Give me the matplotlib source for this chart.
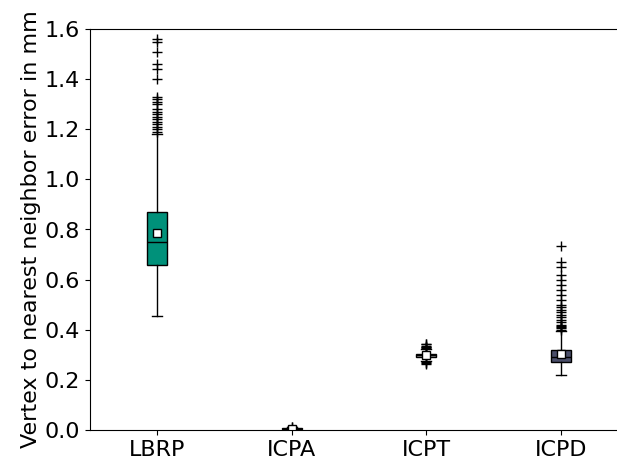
import matplotlib
matplotlib.use("Agg")
import matplotlib.pyplot as plt

categories = ["LBRP", "ICPA", "ICPT", "ICPD"]
colors = ["#00917a", "#7a7a7a", "#9a9a9a", "#4a4e69"]
whislo = [0.455, 0.000, 0.275, 0.220]
q1 = [0.658, 0.002, 0.292, 0.272]
med = [0.752, 0.004, 0.299, 0.290]
q3 = [0.868, 0.006, 0.305, 0.318]
whishi = [1.180, 0.010, 0.322, 0.395]
means = [0.785, 0.004, 0.300, 0.305]
fliers = [
    [1.19, 1.20, 1.21, 1.22, 1.23, 1.24, 1.25, 1.26, 1.27, 1.28, 1.30, 1.31, 1.32, 1.33,
     1.40, 1.44, 1.46, 1.51, 1.55, 1.56],
    [0.011, 0.012],
    [0.265, 0.268, 0.270, 0.327, 0.330, 0.333, 0.337, 0.342, 0.345],
    [0.40, 0.405, 0.41, 0.415, 0.42, 0.43, 0.44, 0.45, 0.46, 0.47, 0.48, 0.49, 0.50,
     0.52, 0.54, 0.56, 0.58, 0.60, 0.62, 0.65, 0.67, 0.735],
]

stats = []
for i, c in enumerate(categories):
    stats.append(dict(label=c, whislo=whislo[i], q1=q1[i], med=med[i], q3=q3[i],
                      whishi=whishi[i], mean=means[i], fliers=fliers[i]))

fig = plt.figure(figsize=(6.17, 4.61), dpi=100)
ax = fig.add_axes([90/617, 31/461, 538/617, 401/461])
bp = ax.bxp(stats, positions=[1, 2, 3, 4], widths=0.15, patch_artist=True, showmeans=True,
            medianprops=dict(color="black", linewidth=1),
            whiskerprops=dict(color="black", linewidth=1),
            capprops=dict(color="black", linewidth=1),
            flierprops=dict(marker="+", markeredgecolor="black", markersize=7),
            meanprops=dict(marker="s", markerfacecolor="white", markeredgecolor="black", markersize=5.5))
for patch, col in zip(bp["boxes"], colors):
    patch.set_facecolor(col)
    patch.set_edgecolor("black")
ax.set_ylim(0, 1.6)
ax.set_xlim(0.5, 4.5)
ax.set_xticks([1, 2, 3, 4])
ax.set_xticklabels(categories)
ax.tick_params(labelsize=16)
ax.set_ylabel("Vertex to nearest neighbor error in mm", fontsize=16, labelpad=3)
fig.savefig("out.png", dpi=100)
